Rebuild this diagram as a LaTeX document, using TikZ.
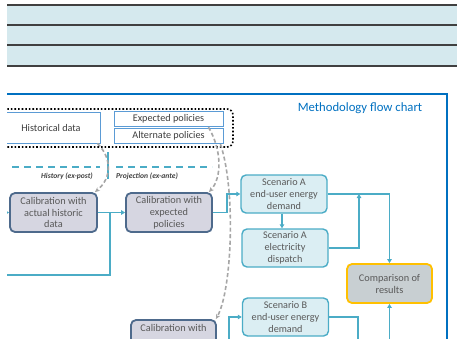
\documentclass[tikz,border=0pt]{standalone}
\usepackage{fontspec}
\setmainfont{Carlito}
\usetikzlibrary{arrows.meta, positioning, calc}
\usepackage{xcolor}
\definecolor{BandFill}{HTML}{D5E9EE}
\definecolor{BandLine}{HTML}{404040}
\definecolor{FrameBlue}{HTML}{0070C0}
\definecolor{DataBlue}{HTML}{5B9BD5}
\definecolor{FlowTeal}{HTML}{4BACC6}
\definecolor{ScenFill}{HTML}{DBEEF3}
\definecolor{CalibFill}{HTML}{D6D6E1}
\definecolor{CalibLine}{HTML}{4E6A8C}
\definecolor{CompFill}{HTML}{C8CFD2}
\definecolor{CompLine}{HTML}{FFC000}
\definecolor{TextGray}{HTML}{595959}
\definecolor{LinkGray}{HTML}{A6A6A6}
\tikzset{
    % Box styles
    databox/.style={
        rectangle,
        draw=DataBlue,
        fill=white,
        line width=0.9pt,
        minimum height=14pt,
        align=center,
        text=TextGray!70!black,
        font=\fontsize{10.2}{12}\selectfont
    },
    calib/.style={
        rectangle,
        rounded corners=5pt,
        draw=CalibLine,
        fill=CalibFill,
        line width=1.8pt,
        minimum width=86pt,
        minimum height=39pt,
        align=center,
        text=TextGray,
        inner sep=1pt,
        font=\fontsize{10.3}{11.8}\selectfont
    },
    scenario/.style={
        rectangle,
        rounded corners=5pt,
        draw=FlowTeal,
        fill=ScenFill,
        line width=1.4pt,
        minimum width=86pt,
        minimum height=38pt,
        align=center,
        text=TextGray,
        inner sep=1pt,
        font=\fontsize{10.2}{11.8}\selectfont
    },
    compare/.style={
        rectangle,
        rounded corners=5pt,
        draw=CompLine,
        fill=CompFill,
        line width=1.8pt,
        minimum width=85pt,
        minimum height=39pt,
        align=center,
        text=TextGray,
        inner sep=1pt,
        font=\fontsize{10.3}{12}\selectfont
    },
    phase/.style={
        font=\fontsize{7.6}{9}\selectfont\bfseries\itshape,
        text=BandLine,
        inner sep=1pt
    },
    % Line styles
    flow/.style={
        line width=1.3pt,
        draw=FlowTeal
    },
    arrow/.style={
        flow,
        -{Triangle[length=4pt,width=4.5pt]}
    },
    dasharrow/.style={
        -{Stealth[length=5pt,width=4.5pt]},
        line width=1.6pt,
        draw=LinkGray,
        dash pattern=on 4pt off 2.5pt
    },
    phaseline/.style={
        line width=1.5pt,
        draw=FlowTeal,
        dash pattern=on 7pt off 5pt
    }
}

\begin{document}
\begin{tikzpicture}[x=1pt, y=-1pt]
    \useasboundingbox (0,0) rectangle (457,338);
    \clip (7,0) rectangle (457,338);

    % Header bands
    \fill[BandFill] (7,5) rectangle (457,66);
    \foreach \yy in {5,25,45,66}
        \draw[BandLine, line width=1.2pt] (7,\yy) -- (457,\yy);

    % Frame and title
    \draw[FrameBlue, line width=2.5pt] (0,94) -- (447,94) -- (447,345);
    \node[text=FrameBlue, font=\fontsize{12.7}{14}\selectfont] (title) at (360,108) {Methodology flow chart};

    % Inputs
    \draw[line width=1.6pt, dotted, rounded corners=6pt] (-10,109) rectangle (233,147);
    \node[databox, minimum width=98pt, minimum height=31pt] (hist) at (51,127.5) {Historical data};
    \node[databox, minimum width=109pt] (exppol) at (168.5,119) {Expected policies};
    \node[databox, minimum width=109pt] (altpol) at (168.5,136) {Alternate policies};

    % History / projection split
    \draw[phaseline] (0,167) -- (100,167);
    \draw[phaseline] (116,167) -- (212,167);
    \draw[FlowTeal, line width=1.6pt] (108,152) -- (108,179);
    \node[phase, anchor=east] (hist-lbl) at (94,176) {History (ex-post)};
    \node[phase, anchor=west] (proj-lbl) at (115,176) {Projection (ex-ante)};

    % Calibration boxes
    \node[calib, minimum width=87pt] (cal1) at (53.5,212.5) {Calibration with\\actual historic\\data};
    \node[calib] (cal2) at (169,212.5) {Calibration with\\expected\\policies};
    \node[calib, minimum width=85pt] (cal3) at (173.5,339.5) {Calibration with\\\mbox{}\\\mbox{}};

    % Scenario boxes
    \node[scenario] (scenAd) at (284,194) {Scenario A\\end-user energy\\demand};
    \node[scenario] (scenAe) at (285,248) {Scenario A\\electricity\\dispatch};
    \node[scenario] (scenBd) at (285.5,317) {Scenario B\\end-user energy\\demand};

    % Comparison
    \node[compare] (comp) at (389.5,283.5) {Comparison of\\results};

    % Free ends
    \coordinate (inA) at (0,212.5);
    \coordinate (j1) at (110,212.5);
    \coordinate (outB) at (0,275);
    \coordinate (mergeA) at (359,194);
    \coordinate (inC) at (389.5,345);
    \coordinate (outBd) at (358,345);
    \coordinate (inBd) at (229,345);

    % Arrows
    \draw[arrow] (inA) -- (cal1.west);
    \draw[arrow] (cal1.east) -- (cal2.west);
    \draw[flow] (j1) |- (outB);
    \draw[arrow] (cal2.east) -- ++(14,0) |- (scenAd.west);
    \draw[arrow] (scenAd.south -| 282,0) -- (scenAe.north -| 282,0);
    \draw[arrow] (scenAd.east) -| (comp.north);
    \draw[arrow] (scenAe.east) -| (mergeA);
    \draw[arrow] (inC) -- (comp.south);
    \draw[flow] (scenBd.east) -| (outBd);
    \draw[arrow] (inBd) |- (scenBd.west);

    % Data links
    \draw[dasharrow] ([xshift=-3pt]hist.south east) .. controls (112,158) and (112,178) .. ([xshift=-3pt]cal1.north east);
    \draw[dasharrow] ([xshift=-15pt]exppol.south east) .. controls (222,150) and (222,178) .. ([xshift=-4pt]cal2.north east);
    \draw[dasharrow] ([xshift=-3pt]altpol.south east) .. controls (236,190) and (232,290) .. ([xshift=-1pt]cal3.north east);
\end{tikzpicture}
\end{document}
